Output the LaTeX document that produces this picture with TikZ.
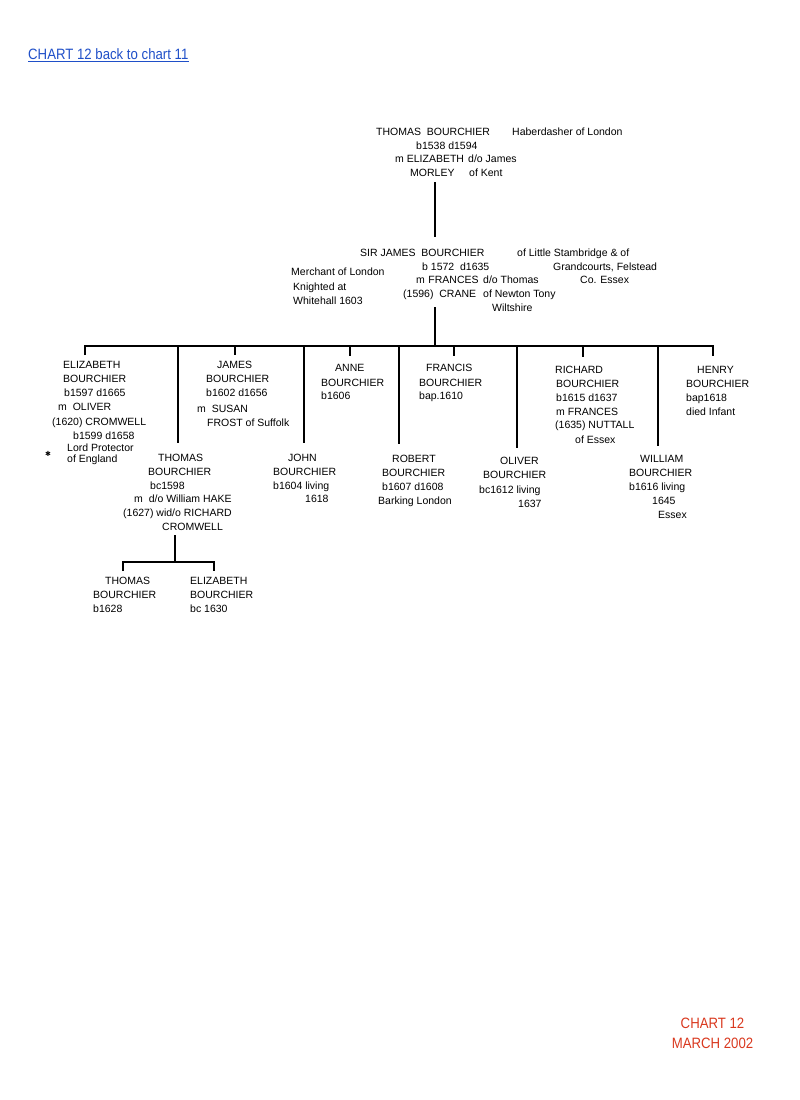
\documentclass[tikz,border=0pt]{standalone}
\usepackage{fontspec}
\setmainfont{Liberation Sans}
\newfontfamily\narrowfont[FakeStretch=0.88]{Liberation Sans}
\newfontfamily\symfont{DejaVu Sans}
\definecolor{L}{HTML}{1F4FC8}
\definecolor{R}{HTML}{D9381E}

\begin{document}
\begin{tikzpicture}[x=1pt, y=-1pt,
    txt/.style = {anchor=base west, inner sep=0pt,
      font=\fontsize{10.5}{12}\selectfont},
    line/.style = {line width=1.8pt}]

  \useasboundingbox (0,0) rectangle (800,1100);

  % heading
  \node[anchor=base west, inner sep=0pt, text=L,
    font=\narrowfont\fontsize{15}{17}\selectfont] (title) at (28,59)
    {CHART 12 back to chart 11};
  \draw[L, line width=0.9pt]
  ([yshift=-2pt]title.base west) -- ([yshift=-2pt]title.base east);

  % THOMAS BOURCHIER
  \node[txt] (tb1) at (376,135) {THOMAS\ \ BOURCHIER};
  \node[txt] (tb2) at (512,135) {Haberdasher of London};
  \node[txt] (tb3) at (416,149) {b1538 d1594};
  \node[txt] (tb4) at (395,162) {m ELIZABETH};
  \node[txt] (tb5) at (468,162) {d/o James};
  \node[txt] (tb6) at (410,176) {MORLEY};
  \node[txt] (tb7) at (469,176) {of Kent};

  % SIR JAMES BOURCHIER
  \node[txt] (sj1) at (360,256) {SIR JAMES\ \ BOURCHIER};
  \node[txt] (sj2) at (517,256) {of Little Stambridge \& of};
  \node[txt] (sj3) at (291,275) {Merchant of London};
  \node[txt] (sj4) at (422,270) {b 1572\ \ d1635};
  \node[txt] (sj5) at (553,270) {Grandcourts, Felstead};
  \node[txt] (sj6) at (416,283) {m\hspace{3.5pt}FRANCES};
  \node[txt] (sj7) at (483,283) {d/o Thomas};
  \node[txt] (sj8) at (580,283) {Co. Essex};
  \node[txt] (sj9) at (293,290) {Knighted at};
  \node[txt] (sj10) at (403,297) {(1596)\ \ CRANE};
  \node[txt] (sj11) at (483,297) {of Newton Tony};
  \node[txt] (sj12) at (293,304) {Whitehall 1603};
  \node[txt] (sj13) at (492,311) {Wiltshire};

  % children
  \node[txt] (el1) at (63,368) {ELIZABETH};
  \node[txt] (el2) at (63,382) {BOURCHIER};
  \node[txt] (el3) at (64,396) {b1597 d1665};
  \node[txt] (el4) at (58,410) {m\ \ OLIVER};
  \node[txt] (el5) at (52,425) {(1620) CROMWELL};
  \node[txt] (el6) at (73,439) {b1599 d1658};
  \node[txt] (el7) at (67,451) {Lord Protector};
  \node[txt] (el8) at (67,462) {of England};
  \node[inner sep=0pt, font=\symfont\fontsize{7}{8}\selectfont]
    (star) at (48,454) {✱};

  \node[txt] (ja1) at (217,368) {JAMES};
  \node[txt] (ja2) at (206,382) {BOURCHIER};
  \node[txt] (ja3) at (206,396) {b1602 d1656};
  \node[txt] (ja4) at (197,412) {m\ \ SUSAN};
  \node[txt] (ja5) at (207,426) {FROST of Suffolk};

  \node[txt] (an1) at (335,371) {ANNE};
  \node[txt] (an2) at (321,386) {BOURCHIER};
  \node[txt] (an3) at (321,399) {b1606};

  \node[txt] (fr1) at (426,371) {FRANCIS};
  \node[txt] (fr2) at (419,386) {BOURCHIER};
  \node[txt] (fr3) at (419,399) {bap.1610};

  \node[txt] (ri1) at (555,373) {RICHARD};
  \node[txt] (ri2) at (556,387) {BOURCHIER};
  \node[txt] (ri3) at (556,401) {b1615 d1637};
  \node[txt] (ri4) at (556,415) {m FRANCES};
  \node[txt] (ri5) at (555,428) {(1635) NUTTALL};
  \node[txt] (ri6) at (575,443) {of Essex};

  \node[txt] (he1) at (697,373) {HENRY};
  \node[txt] (he2) at (686,387) {BOURCHIER};
  \node[txt] (he3) at (686,401) {bap1618};
  \node[txt] (he4) at (686,415) {died Infant};

  \node[txt] (th1) at (158,461) {THOMAS};
  \node[txt] (th2) at (148,475) {BOURCHIER};
  \node[txt] (th3) at (150,489) {bc1598};
  \node[txt] (th4) at (134,502) {m\ \ d/o William HAKE};
  \node[txt] (th5) at (123,516) {(1627) wid/o RICHARD};
  \node[txt] (th6) at (162,530) {CROMWELL};

  \node[txt] (jo1) at (288,461) {JOHN};
  \node[txt] (jo2) at (273,475) {BOURCHIER};
  \node[txt] (jo3) at (273,489) {b1604 living};
  \node[txt] (jo4) at (305,502) {1618};

  \node[txt] (ro1) at (392,462) {ROBERT};
  \node[txt] (ro2) at (382,476) {BOURCHIER};
  \node[txt] (ro3) at (382,490) {b1607 d1608};
  \node[txt] (ro4) at (378,504) {Barking London};

  \node[txt] (ol1) at (500,464) {OLIVER};
  \node[txt] (ol2) at (483,478) {BOURCHIER};
  \node[txt] (ol3) at (479,493) {bc1612 living};
  \node[txt] (ol4) at (518,507) {1637};

  \node[txt] (wi1) at (640,462) {WILLIAM};
  \node[txt] (wi2) at (629,476) {BOURCHIER};
  \node[txt] (wi3) at (629,490) {b1616 living};
  \node[txt] (wi4) at (652,504) {1645};
  \node[txt] (wi5) at (658,518) {Essex};

  % grandchildren
  \node[txt] (gt1) at (105,584) {THOMAS};
  \node[txt] (gt2) at (93,598) {BOURCHIER};
  \node[txt] (gt3) at (93,612) {b1628};

  \node[txt] (ge1) at (190,584) {ELIZABETH};
  \node[txt] (ge2) at (190,598) {BOURCHIER};
  \node[txt] (ge3) at (190,612) {bc 1630};

  % footer
  \node[anchor=base, inner sep=0pt, text=R,
    font=\narrowfont\fontsize{15}{17}\selectfont] (chart) at (712.5,1028)
    {CHART 12};
  \node[anchor=base, inner sep=0pt, text=R,
    font=\narrowfont\fontsize{15}{17}\selectfont] (date) at (712.5,1048)
    {MARCH 2002};

  % lines
  \coordinate (tb-foot) at (435,182);
  \coordinate (sj-head) at (435,237);
  \coordinate (sj-foot) at (435,307);
  \coordinate (bar-w) at (85,346);
  \coordinate (bar-e) at (713,346);
  \coordinate (el-head) at (85,355);
  \coordinate (he-head) at (713,356);
  \coordinate (th-head) at (178,443);
  \coordinate (ja-head) at (235,355);
  \coordinate (jo-head) at (304,443);
  \coordinate (an-head) at (350,356);
  \coordinate (ro-head) at (399,444);
  \coordinate (fr-head) at (454,356);
  \coordinate (ol-head) at (517,448);
  \coordinate (ri-head) at (583,357);
  \coordinate (wi-head) at (658,446);
  \coordinate (th-foot) at (175,535);
  \coordinate (gt-head) at (123,571);
  \coordinate (ge-head) at (214,571);

  \draw[line] (tb-foot) -- (sj-head);
  \draw[line] (sj-foot) -- (sj-foot |- bar-w);
  \draw[line] (el-head) -- (bar-w) -- (bar-e) -- (he-head);
  \foreach \c in {th, ja, jo, an, ro, fr, ol, ri, wi}
  \draw[line] (\c-head |- bar-w) -- (\c-head);

  \draw[line] (th-foot) -- (th-foot |- 0,562);
  \draw[line] (gt-head) -- (gt-head |- 0,562) -- (ge-head |- 0,562) -- (ge-head);
\end{tikzpicture}
\end{document}
